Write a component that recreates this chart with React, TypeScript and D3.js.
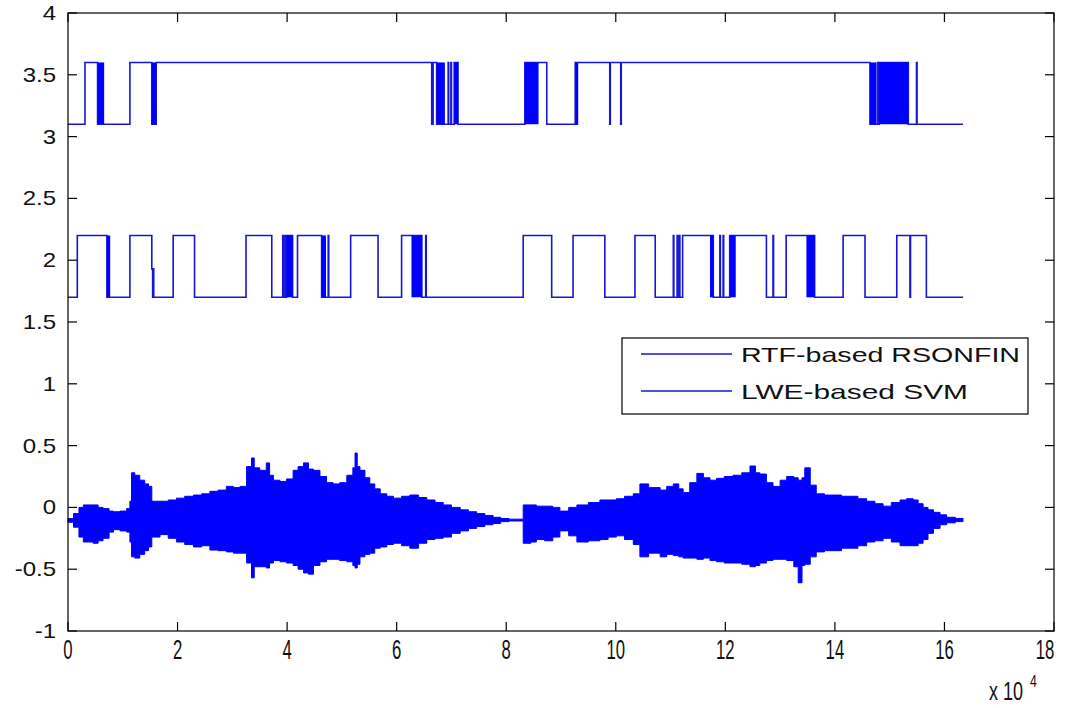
import React from 'react';
import * as d3 from 'd3';

// x values are in units of 10^4 samples
const xTickValues = [0, 2, 4, 6, 8, 10, 12, 14, 16, 18];
const yTickValues = [-1, -0.5, 0, 0.5, 1, 1.5, 2, 2.5, 3, 3.5, 4];
const legendLabels = ['RTF-based RSONFIN', 'LWE-based SVM'];

// RTF-based RSONFIN decision (levels 3.1 / 3.6)
const topSteps: [number, number][] = [
  [0, 3.1], [0.31, 3.6], [0.54, 3.1], [1.13, 3.6], [1.53, 3.1], [1.61, 3.6],
  [6.64, 3.1], [6.665, 3.6], [6.73, 3.1],
  [6.94, 3.6], [6.95, 3.1], [6.99, 3.6], [7.0, 3.1], [7.05, 3.6], [7.12, 3.1],
  [8.34, 3.6], [8.74, 3.1], [9.26, 3.6], [9.28, 3.1], [9.3, 3.6],
  [9.89, 3.1], [9.9, 3.6], [10.09, 3.1], [10.1, 3.6],
  [14.64, 3.1], [14.78, 3.6], [14.79, 3.1], [14.81, 3.6], [15.34, 3.1],
  [15.49, 3.6], [15.5, 3.1], [16.34, 3.1],
];
const topBlocks: [number, number][] = [
  [0.54, 0.66], [1.53, 1.61], [6.73, 6.88], [7.05, 7.12], [8.34, 8.59],
  [9.26, 9.31], [14.64, 14.76], [14.81, 15.34],
];

// LWE-based SVM decision (levels 1.7 / 2.2)
const midSteps: [number, number][] = [
  [0, 1.7], [0.17, 2.2], [0.71, 1.7], [1.13, 2.2], [1.53, 1.93], [1.545, 1.7],
  [1.555, 1.93], [1.565, 1.7], [1.92, 2.2], [2.31, 1.7], [3.25, 2.2], [3.72, 1.7],
  [3.92, 2.2], [3.93, 1.7], [3.96, 2.2], [3.97, 1.7], [3.99, 2.2], [4.1, 1.7],
  [4.19, 2.2], [4.63, 1.7], [4.75, 2.2], [4.76, 1.7],
  [5.16, 2.2], [5.66, 1.7], [6.09, 2.2], [6.46, 1.7], [6.53, 2.2], [6.54, 1.7],
  [8.31, 2.2], [8.83, 1.7], [9.22, 2.2], [9.8, 1.7], [10.35, 2.2], [10.72, 1.7],
  [11.05, 2.2], [11.06, 1.7], [11.12, 2.2], [11.13, 1.7], [11.16, 2.2], [11.17, 1.7],
  [11.22, 2.2], [11.78, 1.7], [11.9, 2.2], [11.91, 1.7], [11.96, 2.2], [11.97, 1.7],
  [12.08, 2.2], [12.75, 1.7], [12.87, 2.2], [12.88, 1.7], [13.11, 2.2], [13.63, 1.7],
  [14.15, 2.2], [14.55, 1.7], [15.13, 2.2], [15.37, 1.7], [15.38, 2.2], [15.67, 1.7],
  [16.34, 1.7],
];
const midBlocks: [number, number][] = [
  [0.71, 0.77], [3.99, 4.1], [4.63, 4.71], [6.27, 6.46], [11.72, 11.78],
  [12.08, 12.19], [13.48, 13.63],
];

// audio waveform envelope (centred near -0.1)
const waveX = [
  0, 0.1, 0.2, 0.28, 0.46, 0.55, 0.64, 0.75, 0.83, 0.95, 1.07, 1.13, 1.16, 1.22, 1.31, 1.4, 1.47,
  1.53, 1.68, 1.83, 1.98, 2.13, 2.29, 2.44, 2.59, 2.74, 2.89, 3.02, 3.14, 3.26, 3.35, 3.4, 3.5,
  3.62, 3.68, 3.75, 3.87, 3.99, 4.11, 4.2, 4.3, 4.39, 4.48, 4.6, 4.72, 4.84, 4.96, 5.09, 5.2,
  5.24, 5.28, 5.33, 5.42, 5.51, 5.6, 5.7, 5.82, 5.94, 6.09, 6.24, 6.4, 6.55, 6.7, 6.85, 7.0,
  7.16, 7.31, 7.46, 7.61, 7.76, 7.9, 8.05, 8.25, 8.31, 8.45, 8.55, 8.7, 8.85, 8.98, 9.14, 9.29,
  9.5, 9.71, 9.86, 10.01, 10.16, 10.32, 10.44, 10.6, 10.81, 10.93, 11.05, 11.15, 11.23, 11.35,
  11.48, 11.6, 11.72, 11.84, 11.98, 12.14, 12.3, 12.45, 12.55, 12.63, 12.75, 12.87, 13.0, 13.12,
  13.25, 13.33, 13.4, 13.45, 13.55, 13.66, 13.81, 13.96, 14.12, 14.27, 14.42, 14.58, 14.73,
  14.88, 15.03, 15.19, 15.31, 15.43, 15.52, 15.61, 15.7, 15.8, 15.92, 16.04, 16.2, 16.34,
];
const waveUpper = [
  -0.09, -0.05, 0.0, 0.02, 0.02, 0.0, -0.01, -0.03, -0.035, -0.03, -0.01, 0.05, 0.28, 0.26, 0.22, 0.19, 0.17,
  0.05, 0.05, 0.06, 0.075, 0.09, 0.1, 0.11, 0.13, 0.14, 0.17, 0.16, 0.17, 0.33, 0.4, 0.32, 0.3,
  0.36, 0.26, 0.22, 0.21, 0.23, 0.3, 0.33, 0.36, 0.31, 0.3, 0.25, 0.2, 0.19, 0.2, 0.26, 0.32,
  0.44, 0.33, 0.3, 0.24, 0.19, 0.15, 0.11, 0.09, 0.075, 0.09, 0.1, 0.08, 0.06, 0.04, 0.02, 0.0,
  -0.02, -0.035, -0.05, -0.065, -0.08, -0.09, -0.095, -0.095, 0.02, 0.02, 0.01, 0.01, 0.0, -0.03, 0.0, 0.02,
  0.04, 0.06, 0.06, 0.07, 0.09, 0.11, 0.19, 0.16, 0.14, 0.17, 0.19, 0.15, 0.12, 0.2,
  0.275, 0.24, 0.22, 0.235, 0.25, 0.26, 0.28, 0.335, 0.28, 0.27, 0.2, 0.17, 0.22, 0.25,
  0.24, 0.22, 0.24, 0.32, 0.18, 0.11, 0.1, 0.1, 0.09, 0.09, 0.07, 0.05, 0.03,
  0.01, 0.04, 0.06, 0.07, 0.06, 0.03, 0.0, -0.02, -0.04, -0.06, -0.08, -0.09, -0.095,
];
const waveLower = [
  -0.12, -0.16, -0.24, -0.28, -0.29, -0.27, -0.25, -0.2, -0.18, -0.19, -0.2, -0.28, -0.4, -0.41, -0.38, -0.35, -0.32,
  -0.24, -0.22, -0.25, -0.28, -0.3, -0.32, -0.31, -0.345, -0.35, -0.36, -0.37, -0.37, -0.45, -0.57, -0.48, -0.48,
  -0.49, -0.45, -0.43, -0.44, -0.45, -0.47, -0.5, -0.53, -0.54, -0.47, -0.44, -0.42, -0.42, -0.43, -0.44, -0.47,
  -0.49, -0.46, -0.4, -0.38, -0.37, -0.33, -0.32, -0.3, -0.29, -0.31, -0.33, -0.29, -0.26, -0.25, -0.24, -0.21,
  -0.19, -0.17, -0.155, -0.14, -0.13, -0.115, -0.11, -0.11, -0.29, -0.28, -0.26, -0.27, -0.24, -0.19, -0.23, -0.28,
  -0.27, -0.26, -0.24, -0.23, -0.26, -0.3, -0.4, -0.37, -0.4, -0.38, -0.39, -0.4, -0.41, -0.41,
  -0.42, -0.41, -0.43, -0.44, -0.45, -0.45, -0.46, -0.48, -0.47, -0.45, -0.43, -0.42, -0.42, -0.43,
  -0.48, -0.61, -0.47, -0.46, -0.4, -0.36, -0.35, -0.35, -0.33, -0.33, -0.31, -0.28, -0.27,
  -0.25, -0.28, -0.31, -0.31, -0.31, -0.29, -0.26, -0.21, -0.17, -0.14, -0.125, -0.115, -0.105,
];

const W = 1075;
const H = 708;
const L = 68, R = 1054, T = 13, B = 631;
const BLUE = '#0000ff';
const LINE_BLUE = '#1616d8';
const FONT = 'Arial, "Liberation Sans", Helvetica, sans-serif';

export default function App() {
  const xs = d3.scaleLinear().domain([0, 18]).range([L, R]);
  const ys = d3.scaleLinear().domain([-1, 4]).range([B, T]);

  const stepLine = d3
    .line<[number, number]>()
    .x((d) => xs(d[0]))
    .y((d) => ys(d[1]))
    .curve(d3.curveStepAfter);

  const waveArea = d3
    .area<number>()
    .x((i) => xs(waveX[i]))
    .y0((i) => ys(waveLower[i]))
    .y1((i) => ys(waveUpper[i]))
    .curve(d3.curveStepAfter);
  const idx = waveX.map((_, i) => i);

  const tick = 9;

  const blocks = (list: [number, number][], lo: number, hi: number, key: string) =>
    list.map((b, i) => (
      <rect
        key={key + i}
        x={xs(b[0])}
        y={ys(hi)}
        width={Math.max(1, xs(b[1]) - xs(b[0]))}
        height={ys(lo) - ys(hi)}
        fill={BLUE}
      />
    ));

  return (
    <svg
      width={W}
      height={H}
      style={{ position: 'absolute', left: 0, top: 0, background: '#fff' }}
      fontFamily={FONT}
    >
      <rect x={0} y={0} width={W} height={H} fill="#fff" />

      {/* waveform */}
      <path d={waveArea(idx) || ''} fill={BLUE} stroke={BLUE} strokeWidth={1} />

      {/* step series */}
      <path d={stepLine(midSteps) || ''} fill="none" stroke={LINE_BLUE} strokeWidth={1.6} />
      {blocks(midBlocks, 1.7, 2.2, 'mb')}
      <path d={stepLine(topSteps) || ''} fill="none" stroke={LINE_BLUE} strokeWidth={1.6} />
      {blocks(topBlocks, 3.1, 3.6, 'tb')}

      {/* axes box */}
      <rect x={L} y={T} width={R - L} height={B - T} fill="none" stroke="#000" strokeWidth={1.2} />

      {yTickValues.map((v) => (
        <g key={'y' + v}>
          <line x1={L} x2={L + tick} y1={ys(v)} y2={ys(v)} stroke="#000" strokeWidth={1.2} />
          <line x1={R} x2={R - tick} y1={ys(v)} y2={ys(v)} stroke="#000" strokeWidth={1.2} />
          <text
            transform={`translate(${L - 12},${ys(v) + 7}) scale(1.2,1)`}
            textAnchor="end"
            fontSize={20}
            fill="#111"
          >
            {v}
          </text>
        </g>
      ))}

      {xTickValues.map((v) => (
        <g key={'x' + v}>
          <line x1={xs(v)} x2={xs(v)} y1={B} y2={B - tick} stroke="#000" strokeWidth={1.2} />
          <line x1={xs(v)} x2={xs(v)} y1={T} y2={T + tick} stroke="#000" strokeWidth={1.2} />
          <text
            transform={`translate(${v === 18 ? xs(v) - 9 : xs(v)},${B + 28}) scale(0.62,1)`}
            textAnchor="middle"
            fontSize={27}
            fill="#111"
          >
            {v}
          </text>
        </g>
      ))}

      {/* exponent label */}
      <text transform={`translate(989,700) scale(0.72,1)`} fontSize={25} fill="#111">
        x 10
      </text>
      <text transform={`translate(1030,687) scale(0.72,1)`} fontSize={17} fill="#111">
        4
      </text>

      {/* legend */}
      <rect x={622} y={338} width={406} height={76} fill="#fff" stroke="#000" strokeWidth={1.2} />
      {legendLabels.map((lab, i) => (
        <g key={lab}>
          <line
            x1={641}
            x2={732}
            y1={354 + i * 37}
            y2={354 + i * 37}
            stroke={LINE_BLUE}
            strokeWidth={1.6}
          />
          <text
            x={741}
            y={362 + i * 37}
            fontSize={21}
            fill="#111"
            textLength={i === 0 ? 279 : 227}
            lengthAdjust="spacingAndGlyphs"
          >
            {lab}
          </text>
        </g>
      ))}
    </svg>
  );
}
